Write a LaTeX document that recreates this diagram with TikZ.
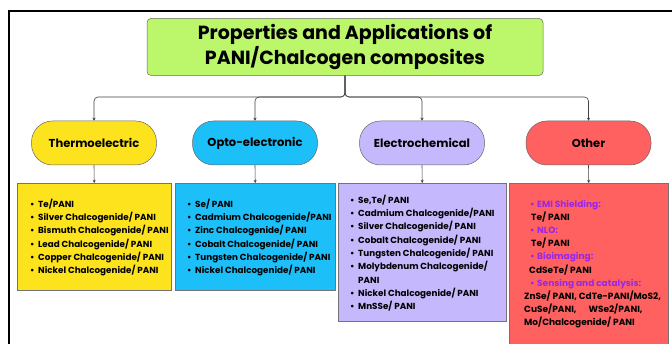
\documentclass[tikz,border=0pt]{standalone}
\usepackage{fontspec}
\setmainfont{Poppins}
\usetikzlibrary{arrows.meta}
\definecolor{titlegreen}{HTML}{BBF66B}
\definecolor{tyellow}{HTML}{FDE31E}
\definecolor{tblue}{HTML}{1CBFF8}
\definecolor{tpurple}{HTML}{C5B8FC}
\definecolor{tred}{HTML}{FF6161}
\definecolor{tviolet}{HTML}{9A26E6}
\newcommand{\bul}{\makebox[8pt][l]{•}}
\begin{document}
\begin{tikzpicture}[x=1pt,y=-1pt,
 conn/.style={draw=black!75, line width=0.6pt},
 tipped/.style={-{Stealth[length=3pt,width=3pt]}},
 pill/.style={draw=black!60, line width=0.5pt, rounded corners=21pt, minimum width=125pt, minimum height=44pt, inner sep=0pt, font=\fontsize{11.5}{13}\selectfont\bfseries},
 cbox/.style={draw=black!55, line width=0.5pt, anchor=north west, inner sep=0pt},
 ctext/.style={anchor=north west, align=left, inner sep=0pt, font=\fontsize{8.8}{13.3}\selectfont\bfseries},
]
\useasboundingbox (0,0) rectangle (672,344);
\draw[line width=1.2pt] (9,350) -- (9,11) -- (680,11);

\node[draw=black!60, line width=0.5pt, fill=titlegreen, rounded corners=4pt, minimum width=396pt, minimum height=57pt, align=center, font=\fontsize{19}{23}\selectfont\bfseries] (title) at (345,47) {Properties and Applications of\\PANI/Chalcogen composites};

\node[pill, fill=tyellow] (c1) at (94,143) {Thermoelectric};
\node[pill, fill=tblue] (c2) at (255,143) {Opto-electronic};
\node[pill, fill=tpurple] (c3) at (422,143) {Electrochemical};
\node[pill, fill=tred] (c4) at (588.5,143) {Other};

\node[cbox, fill=tyellow, minimum width=154pt, minimum height=107pt] (b1) at (17,183) {};
\node[cbox, fill=tblue, minimum width=160pt, minimum height=107pt] (b2) at (175,183) {};
\node[cbox, fill=tpurple, minimum width=168pt, minimum height=138pt] (b3) at (338,183) {};
\node[cbox, fill=tred, minimum width=159pt, minimum height=162pt] (b4) at (509,183) {};

\node[ctext] (t1) at (30,198.8) {\bul Te/PANI\\\bul Silver Chalcogenide/ PANI\\\bul Bismuth Chalcogenide/ PANI\\\bul Lead Chalcogenide/ PANI\\\bul Copper Chalcogenide/ PANI\\\bul Nickel Chalcogenide/ PANI};
\node[ctext] (t2) at (187,198.8) {\bul Se/ PANI\\\bul Cadmium Chalcogenide/PANI\\\bul Zinc Chalcogenide/ PANI\\\bul Cobalt Chalcogenide/ PANI\\\bul Tungsten Chalcogenide/ PANI\\\bul Nickel Chalcogenide/ PANI};
\node[ctext] (t3) at (350,194.8) {\bul Se,Te/ PANI\\\bul Cadmium Chalcogenide/PANI\\\bul Silver Chalcogenide/ PANI\\\bul Cobalt Chalcogenide/ PANI\\\bul Tungsten Chalcogenide/ PANI\\\bul Molybdenum Chalcogenide/\\\hspace*{8pt}PANI\\\bul Nickel Chalcogenide/ PANI\\\bul MnSSe/ PANI};
\node[ctext, font=\fontsize{9}{13.2}\selectfont\bfseries] (t4) at (524,199.6) {\hspace*{6pt}{\color{tviolet}\makebox[7pt][l]{•}EMI Shielding:}\\\hspace*{7pt}Te/ PANI\\\hspace*{6pt}{\color{tviolet}\makebox[7pt][l]{•}NLO:}\\\hspace*{7pt}Te/ PANI\\\hspace*{6pt}{\color{tviolet}\makebox[7pt][l]{•}Bioimaging:}\\\hspace*{5pt}CdSeTe/ PANI\\\hspace*{6pt}{\color{tviolet}\makebox[7pt][l]{•}Sensing and catalysis:}\\ZnSe/ PANI, CdTe-PANI/MoS2,\\CuSe/PANI,\hspace{12pt}WSe2/PANI,\\Mo/Chalcogenide/ PANI};

\foreach \i in {1,2,3,4}{
  \draw[conn, tipped, rounded corners=4pt] (title.south) -- (title.south |- 0,97) -| (c\i.north);
  \draw[conn, tipped] (c\i.south) -- (b\i.north);
}
\end{tikzpicture}
\end{document}
